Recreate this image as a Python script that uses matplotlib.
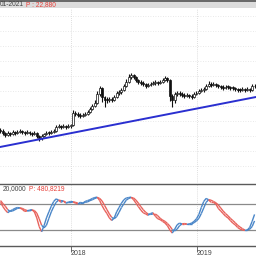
import numpy as np
import matplotlib
matplotlib.use("Agg")
import matplotlib.pyplot as plt
from matplotlib.collections import LineCollection

# weekly candles
closes = [18.4, 18.2, 18.0, 18.2, 18.1, 18.3, 18.2, 18.3, 18.4, 18.3,
          18.2, 18.3, 18.2, 18.1, 18.2, 17.9, 17.7, 17.9, 18.1, 18.2,
          18.2, 18.3, 18.4, 18.8, 18.9, 18.8, 18.9, 18.8, 18.9, 19.0,
          20.2, 20.1, 20.0, 19.9, 20.0, 20.1, 20.3, 20.6, 20.9, 21.2,
          22.1, 22.7, 21.8, 21.5, 21.5, 21.6, 21.5, 21.8, 22.2, 22.3,
          22.5, 22.9, 23.3, 23.8, 24.0, 23.8, 23.5, 23.3, 23.2, 23.1,
          22.9, 23.0, 23.1, 23.2, 23.3, 23.2, 23.3, 23.5, 23.7, 23.5,
          21.9, 21.5, 22.1, 22.2, 22.1, 22.0, 21.9, 22.0, 21.9, 21.8,
          22.1, 22.2, 22.4, 22.5, 22.6, 22.9, 23.1, 23.0, 23.1, 23.0,
          22.9, 22.8, 22.7, 22.8, 22.8, 22.7, 22.7, 22.6, 22.5, 22.5,
          22.6, 22.5, 22.6, 22.5, 22.9, 22.88]
first_open = 18.5
highs = [18.7, 18.6, 18.3, 18.4, 18.3, 18.5, 18.4, 18.5, 18.6, 18.5,
         18.4, 18.5, 18.4, 18.3, 18.4, 18.3, 18.0, 18.1, 18.2, 18.4,
         18.4, 18.5, 18.6, 19.0, 19.1, 19.0, 19.1, 19.0, 19.1, 19.1,
         20.5, 20.4, 20.3, 20.2, 20.2, 20.3, 20.5, 20.8, 21.1, 21.5,
         22.4, 22.9, 22.8, 21.9, 21.8, 21.8, 21.8, 22.0, 22.4, 22.5,
         22.7, 23.1, 23.6, 24.1, 24.2, 24.1, 23.9, 23.6, 23.5, 23.4,
         23.2, 23.2, 23.3, 23.4, 23.5, 23.4, 23.5, 23.7, 23.9, 23.8,
         23.6, 22.1, 22.3, 22.4, 22.4, 22.3, 22.2, 22.2, 22.1, 22.1,
         22.3, 22.4, 22.6, 22.7, 22.8, 23.1, 23.4, 23.3, 23.3, 23.2,
         23.1, 23.0, 23.0, 23.0, 23.0, 22.9, 22.9, 22.8, 22.7, 22.7,
         22.8, 22.7, 22.8, 22.7, 23.1, 23.1]
lows = [18.2, 18.0, 17.8, 17.9, 17.9, 18.0, 18.0, 18.1, 18.2, 18.1,
        18.0, 18.1, 18.0, 17.9, 18.0, 17.7, 17.4, 17.5, 17.8, 18.0,
        18.0, 18.1, 18.2, 18.3, 18.7, 18.6, 18.7, 18.6, 18.7, 18.7,
        18.9, 19.9, 19.8, 19.7, 19.8, 19.9, 20.0, 20.2, 20.5, 20.8,
        21.1, 21.9, 21.3, 20.8, 21.2, 21.3, 21.3, 21.4, 21.7, 22.0,
        22.1, 22.4, 22.8, 23.2, 23.6, 23.6, 23.3, 23.1, 23.0, 22.9,
        22.7, 22.8, 22.9, 23.0, 23.0, 23.0, 23.1, 23.2, 23.4, 23.3,
        21.4, 20.8, 21.2, 21.9, 21.9, 21.8, 21.7, 21.8, 21.7, 21.6,
        21.7, 22.0, 22.1, 22.3, 22.3, 22.5, 22.8, 22.8, 22.9, 22.8,
        22.7, 22.6, 22.5, 22.6, 22.6, 22.5, 22.5, 22.4, 22.3, 22.3,
        22.4, 22.3, 22.4, 22.3, 22.4, 22.7]

# stochastic %K and %D
stoch_k = [84, 74, 66, 60, 64, 67, 70, 72, 71, 68,
           63, 64, 66, 67, 62, 48, 28, 16, 30, 48,
           62, 75, 86, 92, 89, 84, 87, 82, 84, 86,
           85, 82, 80, 84, 82, 86, 88, 90, 93, 95,
           96, 88, 76, 66, 58, 48, 42, 48, 62, 72,
           82, 90, 94, 95, 96, 90, 82, 74, 66, 60,
           57, 54, 58, 60, 52, 46, 44, 40, 36, 30,
           20, 13, 22, 32, 36, 34, 34, 33, 34, 36,
           40, 46, 56, 72, 86, 93, 90, 84, 84, 80,
           70, 64, 58, 52, 48, 42, 36, 32, 26, 22,
           20, 19, 20, 26, 40, 56]
stoch_d = [88, 81, 75, 67, 63, 64, 67, 70, 71, 70,
           67, 65, 64, 66, 65, 59, 46, 31, 25, 31,
           47, 62, 74, 84, 89, 88, 87, 84, 84, 84,
           85, 84, 82, 82, 82, 84, 85, 88, 90, 93,
           95, 93, 87, 77, 67, 57, 49, 46, 51, 61,
           72, 81, 89, 93, 95, 94, 89, 82, 74, 67,
           61, 57, 56, 57, 57, 53, 47, 43, 40, 35,
           29, 21, 18, 22, 30, 34, 35, 34, 34, 34,
           37, 41, 47, 58, 71, 84, 90, 89, 86, 83,
           78, 71, 64, 58, 53, 47, 42, 37, 31, 27,
           23, 20, 20, 22, 28, 41]
stoch_levels = [80, 20]

trend_x = [-0.2, 105.6]
trend_y = [16.8, 21.8]

year_pos = [29.1, 81.2]
year_labels = ["2018", "2019"]

BLUE = "#4a86c8"
RED = "#e8625c"
FONT = "Liberation Sans"

fig = plt.figure(figsize=(2.56, 2.56), dpi=100)
fig.patch.set_facecolor("white")

# top info bar
fig.patches.append(plt.Rectangle((0, 248/256), 1, 8/256, transform=fig.transFigure,
                                 facecolor="#dcdcdc", edgecolor="none", zorder=0))
fig.patches.append(plt.Rectangle((0, 254.5/256), 1, 1.5/256, transform=fig.transFigure,
                                 facecolor="#6a6a6a", edgecolor="none", zorder=1))
fig.text(0.0, 251.3/256, "01-2021", fontsize=4.8, family=FONT, color="#444444",
         va="center", ha="left")
fig.text(26/256, 251.3/256, "P : 22,880", fontsize=4.8, family=FONT, color="#e8403a",
         va="center", ha="left")

xlim = (-0.2, 105.6)

# main price panel
ax = fig.add_axes([0, 73/256, 1, 175/256])
ax.set_xlim(*xlim)
ax.set_ylim(13.2, 30.7)
for s in ax.spines.values():
    s.set_visible(False)
ax.set_xticks([])
ax.set_yticks([])
for gy in [29.9, 28.4, 26.9, 25.4, 23.9, 22.4, 20.9, 19.4, 17.9, 16.4, 14.9]:
    ax.axhline(gy, color="#e2e2e2", lw=0.6, ls=(0, (1, 2)), zorder=0)
for xp in year_pos:
    ax.axvline(xp, color="#d4d4d4", lw=0.6, ls=(0, (1, 1.5)), zorder=0)

opens = [first_open] + closes[:-1]
idx = np.arange(len(closes))
ax.vlines(idx, lows, highs, color="#111111", lw=0.8, zorder=2)
for i in idx:
    o, c = opens[i], closes[i]
    bottom = min(o, c)
    h = max(abs(c - o), 0.06)
    face = "white" if c > o else "#111111"
    ax.bar(i, h, bottom=bottom, width=0.8, color=face, edgecolor="#111111",
           linewidth=0.5, zorder=3)

ax.plot(trend_x, trend_y, color="#2a2fd0", lw=1.4, zorder=4)

# stochastic panel
ax2 = fig.add_axes([0, 10/256, 1, 62/256])
ax2.set_xlim(*xlim)
ax2.set_ylim(-16.9, 126.3)
for s in ["left", "right"]:
    ax2.spines[s].set_visible(False)
for s in ["top", "bottom"]:
    ax2.spines[s].set_color("#5a5a5a")
    ax2.spines[s].set_linewidth(1.0)
ax2.set_yticks([])
for lv in stoch_levels:
    ax2.axhline(lv, color="#8a8a8a", lw=0.9, zorder=1)
for xp in year_pos:
    ax2.axvline(xp, color="#d4d4d4", lw=0.6, ls=(0, (1, 1.5)), zorder=0)

k = np.array(stoch_k, dtype=float)
d = np.array(stoch_d, dtype=float)
cols = [BLUE if k[i + 1] >= d[i + 1] else RED for i in range(len(k) - 1)]
for series in (d, k):
    pts = np.column_stack([idx, series]).reshape(-1, 1, 2)
    segs = np.concatenate([pts[:-1], pts[1:]], axis=1)
    ax2.add_collection(LineCollection(segs, colors=cols, linewidths=1.0, zorder=3))

ax2.text(3/256, 1 - 5/62, "20,0000", transform=ax2.transAxes, fontsize=4.8, family=FONT,
         color="#444444", va="center", ha="left")
ax2.text(29/256, 1 - 5/62, "P: 480,8219", transform=ax2.transAxes, fontsize=4.8, family=FONT,
         color="#e8403a", va="center", ha="left")

ax2.set_xticks(year_pos)
ax2.set_xticklabels(year_labels, family=FONT)
ax2.tick_params(axis="x", length=4, width=0.6, color="#555555", labelsize=5,
                labelcolor="#444444", pad=-1)
for lab in ax2.get_xticklabels():
    lab.set_horizontalalignment("left")

fig.savefig("out.png", dpi=100)
